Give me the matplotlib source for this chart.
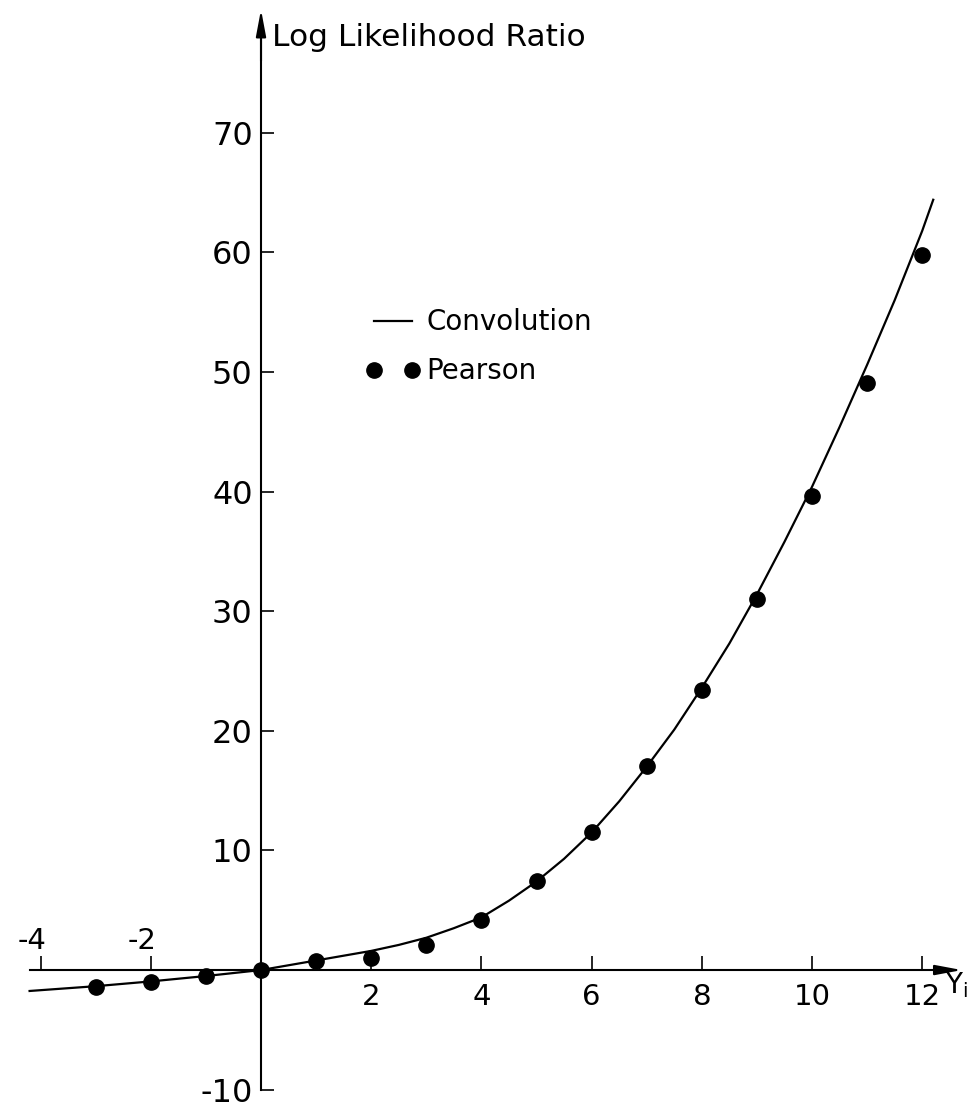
import numpy as np
import matplotlib
matplotlib.use('Agg')
from matplotlib import pyplot as plt
from matplotlib.lines import Line2D

# Pearson approximation, read at integer Y_i
pearson_x = [-3, -2, -1, 0, 1, 2, 3, 4, 5, 6, 7, 8, 9, 10, 11, 12]
pearson_y = [-1.4, -1.0, -0.5, 0.0, 0.75, 1.0, 2.1, 4.2, 7.45, 11.5, 17.1, 23.4, 31.0, 39.6, 49.1, 59.8]

# convolution curve
conv_x = [-4.2, -3, -2, -1, 0, 0.5, 1, 1.5, 2, 2.5, 3, 3.5, 4, 4.5, 5, 5.5, 6, 6.5,
          7, 7.5, 8, 8.5, 9, 9.5, 10, 10.5, 11, 11.5, 12, 12.2]
conv_y = [-1.75, -1.35, -0.95, -0.5, 0.0, 0.4, 0.8, 1.2, 1.6, 2.1, 2.7, 3.5, 4.4, 5.8,
          7.4, 9.3, 11.5, 14.1, 17.0, 20.1, 23.6, 27.3, 31.4, 35.8, 40.4, 45.4, 50.6,
          56.0, 61.8, 64.4]

x_ticks = [-4, -2, 2, 4, 6, 8, 10, 12]
x_labels = ['', '', '2', '4', '6', '8', '10', '12']
neg_labels = ['-4', '-2']
y_ticks = [-10, 10, 20, 30, 40, 50, 60, 70]
y_labels = ['-10', '10', '20', '30', '40', '50', '60', '70']

plt.rcParams['font.family'] = ['DejaVu Sans']

fig = plt.figure(figsize=(9.75, 11.07), dpi=100)
ax = fig.add_axes([0, 0, 1, 1])
ax.set_xlim(-4.737, 12.958)
ax.set_ylim(-11.45, 81.1)

# axes through the origin
ax.spines['left'].set_position(('data', 0))
ax.spines['bottom'].set_position(('data', 0))
ax.spines['right'].set_visible(False)
ax.spines['top'].set_visible(False)
ax.spines['left'].set_bounds(-10, 78)
ax.spines['bottom'].set_bounds(-4.2, 12.4)
for s in ['left', 'bottom']:
    ax.spines[s].set_linewidth(1.5)

# arrow heads on the axes
ax.annotate('', xy=(0, 80.3), xytext=(0, 76),
            arrowprops=dict(arrowstyle='-|>,head_length=1.6,head_width=0.3',
                            color='black', lw=1.5, shrinkA=0, shrinkB=0))
ax.annotate('', xy=(12.72, 0), xytext=(12.2, 0),
            arrowprops=dict(arrowstyle='-|>,head_length=1.6,head_width=0.3',
                            color='black', lw=1.5, shrinkA=0, shrinkB=0))

ax.set_xticks(x_ticks, x_labels)
ax.set_yticks(y_ticks, y_labels)
ax.tick_params(axis='x', direction='in', length=10, width=1.2, pad=9, labelsize=21)
ax.tick_params(axis='y', direction='in', length=9, width=1.2, pad=6, labelsize=23)

for v, lab in zip(x_ticks[:2], neg_labels):
    ax.text(v - 0.15, 2.4, lab, ha='center', va='center', fontsize=21)

ax.text(12.42, -1.3, r'Y$_\mathregular{i}$', ha='left', va='center', fontsize=20)
ax.text(0.2, 78.0, 'Log Likelihood Ratio', ha='left', va='center', fontsize=22.5)

ax.plot(conv_x, conv_y, color='black', lw=1.6, clip_on=False)
ax.plot(pearson_x, pearson_y, 'o', color='black', markersize=11, clip_on=False)

handles = [Line2D([], [], color='black', lw=1.6),
           Line2D([], [], marker='o', ls='none', color='black', markersize=11)]
ax.legend(handles, ['Convolution', 'Pearson'], loc='upper left',
          bbox_to_anchor=(0.349, 0.744), frameon=False, fontsize=20,
          numpoints=2, handlelength=2.0, handletextpad=0.2, labelspacing=0.75)

plt.savefig('out.png', dpi=100)
